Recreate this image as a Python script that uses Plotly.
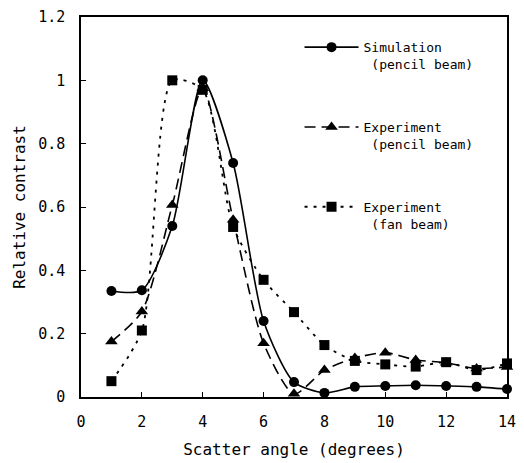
import plotly.graph_objects as go

angles = [1, 2, 3, 4, 5, 6, 7, 8, 9, 10, 11, 12, 13, 14]
sim_pencil = [0.335, 0.337, 0.54, 1.0, 0.739, 0.24, 0.047, 0.013, 0.032, 0.035, 0.037, 0.035, 0.032, 0.025]
exp_pencil = [0.175, 0.27, 0.606, 0.975, 0.56, 0.17, 0.01, 0.085, 0.123, 0.14, 0.117, 0.108, 0.09, 0.095]
exp_fan = [0.05, 0.21, 1.0, 0.97, 0.537, 0.37, 0.268, 0.164, 0.114, 0.103, 0.096, 0.11, 0.085, 0.106]

names = ["Simulation<br>\u2009(pencil beam)", "Experiment<br>\u2009(pencil beam)", "Experiment<br>\u2009(fan beam)"]
x_title = "Scatter angle (degrees)"
y_title = "Relative contrast"

FONT = "DejaVu Sans Mono"

fig = go.Figure()
fig.add_trace(go.Scatter(x=angles, y=sim_pencil, name=names[0], mode="lines+markers",
                         line=dict(color="black", width=1.6, shape="spline", smoothing=0.7),
                         marker=dict(symbol="circle", size=10, color="black"),
                         cliponaxis=False, legendgroup="a"))
fig.add_trace(go.Scatter(x=angles, y=exp_pencil, name=names[1], mode="lines+markers",
                         line=dict(color="black", width=1.6, dash="11px,6px", shape="spline", smoothing=0.7),
                         marker=dict(symbol="triangle-up", size=11, color="black"),
                         cliponaxis=False, legendgroup="b"))
fig.add_trace(go.Scatter(x=angles, y=exp_fan, name=names[2], mode="lines+markers",
                         line=dict(color="black", width=1.8, dash="3px,6px", shape="spline", smoothing=0.7),
                         marker=dict(symbol="square", size=10, color="black"),
                         cliponaxis=False, legendgroup="c"))

axis_common = dict(showline=True, linecolor="black", linewidth=1.5, mirror=True, automargin=False,
                   ticks="inside", ticklen=5, tickcolor="black", showgrid=False, zeroline=False,
                   tickfont=dict(family=FONT, size=15, color="black"))

fig.update_layout(
    width=524, height=463,
    margin=dict(l=81, r=17, t=17, b=66),
    paper_bgcolor="white", plot_bgcolor="white",
    font=dict(family=FONT, color="black"),
    xaxis=dict(range=[0, 14], tick0=0, dtick=2, ticklabelstandoff=10,
               title=dict(text=x_title, font=dict(family=FONT, size=16), standoff=14),
               **axis_common),
    yaxis=dict(range=[0, 1.2], tick0=0, dtick=0.2, ticklabelstandoff=11,
               title=dict(text=y_title, font=dict(family=FONT, size=16), standoff=9),
               **axis_common),
    legend=dict(x=0.513, y=0.96, xanchor="left", yanchor="top", bgcolor="rgba(0,0,0,0)",
                font=dict(family=FONT, size=13, color="black"), itemwidth=54,
                tracegroupgap=43, valign="top"),
    showlegend=True,
)

fig.write_html("out.html", config={"displayModeBar": False},
               post_script="document.body.style.margin='0px';")
